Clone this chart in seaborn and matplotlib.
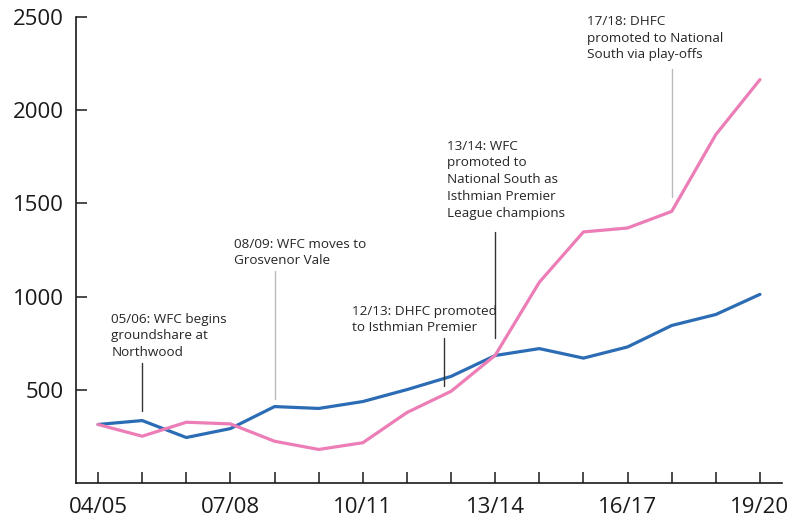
import matplotlib
matplotlib.use("Agg")
import matplotlib.pyplot as plt
import numpy as np
import pandas as pd
import seaborn as sns

seasons = ["04/05", "05/06", "06/07", "07/08", "08/09", "09/10", "10/11", "11/12",
           "12/13", "13/14", "14/15", "15/16", "16/17", "17/18", "18/19", "19/20"]
wfc = [314, 335, 244, 292, 410, 400, 437, 501, 572, 684, 721, 670, 730, 845, 904, 1012]
dhfc = [314, 251, 326, 317, 224, 180, 216, 378, 492, 685, 1077, 1347, 1368, 1457, 1869, 2164]

df = pd.DataFrame({
    "idx": list(range(len(seasons))) * 2,
    "attendance": wfc + dhfc,
    "club": ["WFC"] * len(seasons) + ["DHFC"] * len(seasons),
})

sns.set_style("white")
plt.rcParams["font.family"] = ["Open Sans", "DejaVu Sans"]

fig = plt.figure(figsize=(7.89, 5.17), dpi=100)
ax = fig.add_axes([76 / 789, 34 / 517, 706 / 789, 466 / 517])

sns.lineplot(data=df, x="idx", y="attendance", hue="club",
             palette={"WFC": "#2b6cb5", "DHFC": "#ec7db7"},
             linewidth=2.3, legend=False, ax=ax)

ax.set_xlim(-0.5, 15.5)
ax.set_ylim(0, 2500)
ax.set_xticks(range(len(seasons)))
ax.set_xticklabels([s if i % 3 == 0 else "" for i, s in enumerate(seasons)])
ax.set_yticks([500, 1000, 1500, 2000, 2500])
ax.set_xlabel("")
ax.set_ylabel("")
for s in ["top", "right"]:
    ax.spines[s].set_visible(False)
for s in ["left", "bottom"]:
    ax.spines[s].set_color("#1a1a1a")
    ax.spines[s].set_linewidth(1.2)
ax.tick_params(axis="both", direction="in", length=8, width=1.1, color="#1a1a1a",
               labelsize=16, labelcolor="#1a1a1a")
ax.tick_params(axis="x", pad=10, bottom=True)
ax.tick_params(axis="y", pad=9, left=True)

# notes
dark = "#333333"
light = "#bbbbbb"
notes = [
    (0.30, 914, "05/06: WFC begins\ngroundshare at\nNorthwood"),
    (3.08, 1316, "08/09: WFC moves to\nGrosvenor Vale"),
    (5.76, 957, "12/13: DHFC promoted\nto Isthmian Premier"),
    (7.90, 1842, "13/14: WFC\npromoted to\nNational South as\nIsthmian Premier\nLeague champions"),
    (11.09, 2512, "17/18: DHFC\npromoted to National\nSouth via play-offs"),
]
for x, y, t in notes:
    ax.text(x, y, t, ha="left", va="top", fontsize=9.7, color="#262626", linespacing=1.38)

leaders = [
    (1, 646, 385, dark),
    (4, 1136, 448, light),
    (7.85, 780, 519, dark),
    (9, 1345, 780, dark),
    (13, 2223, 1536, light),
]
for x, y0, y1, c in leaders:
    ax.plot([x, x], [y0, y1], color=c, linewidth=1.0)

fig.savefig("out.png", dpi=100)
